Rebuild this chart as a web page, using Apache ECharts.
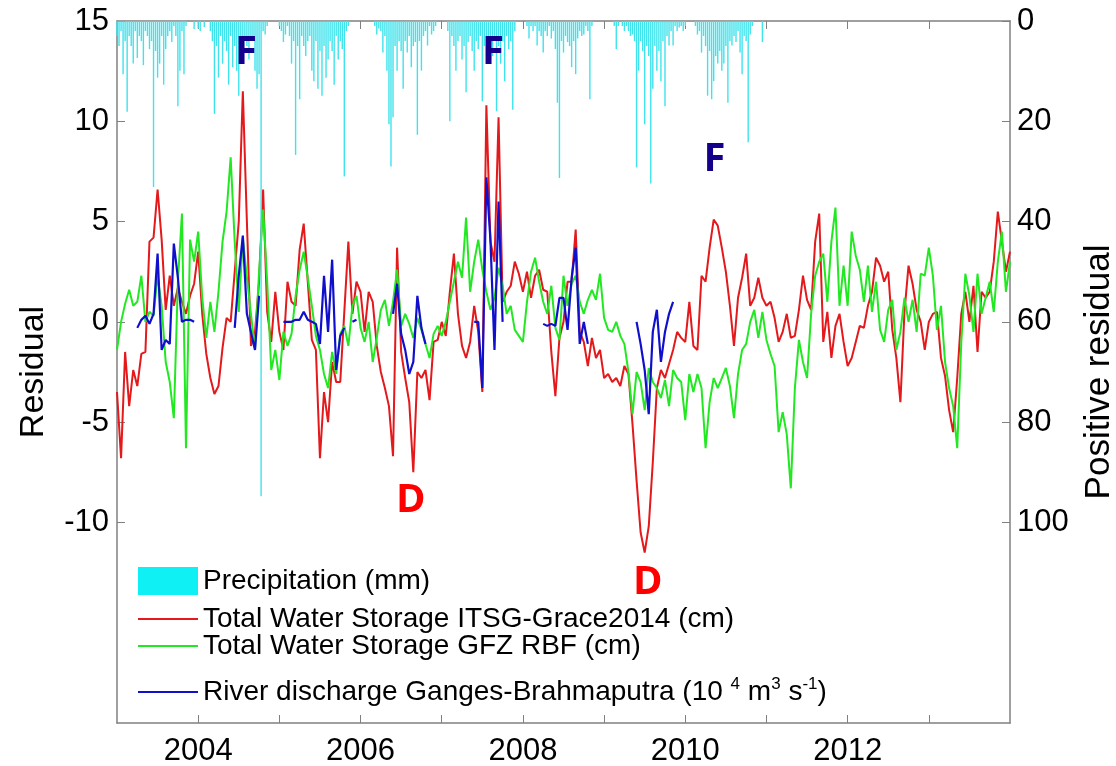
<!DOCTYPE html>
<html>
<head>
<meta charset="utf-8">
<script src="https://cdn.jsdelivr.net/npm/echarts@6/dist/echarts.min.js"></script>
<style>
  html, body { margin: 0; padding: 0; background: #fff; }
  #chart { width: 1116px; height: 766px; }
</style>
</head>
<body>
<div id="chart"></div>
<script>
// time grid of the three residual series: one value every 0.05 yr from 2003.0
const startYear = 2003;
const step = 0.05;

// Total Water Storage ITSG-Grace2014 (cm), one row per year
const redTWS = [
  -3.5, -6.8, -1.5, -4.2, -2.4, -3.2, -1.6, -1.5, 4.0, 4.2, 6.6, 4.1, 0.6, 2.3, 0.8, 1.7, 1.0, 0.4, 1.3, 1.9,
  3.5, 0.4, -1.6, -2.8, -3.6, -3.2, -1.3, 0.2, 0.0, 2.5, 5.0, 11.5, 5.0, -1.2, -0.5, 2.0, 6.6, 0.5, -1.0, 1.5,
  -0.5, -1.4, 2.0, 1.0, 0.8, 3.6, 4.9, 2.0, -0.9, -1.4, -6.8, -3.5, -5.0, -2.0, -3.0, -3.0, 0.5, 4.0, 0.4, 2.0,
  1.5, -0.5, 1.5, 1.0, -1.2, -2.5, -3.3, -4.2, -6.7, 3.7, -1.5, -2.8, -4.0, -7.5, -2.5, -2.8, -2.4, -3.9, -1.0, -0.9,
  0.0, -0.7, 1.5, 3.4, 0.4, -1.2, -1.8, -1.0, 0.8, -0.5, -3.5, 10.8, 4.0, 3.0, 10.2, 1.0, 1.5, 1.8, 3.0, 2.4,
  1.5, 2.5, 1.2, 2.3, 2.6, 1.6, 1.5, -1.5, -3.7, -0.8, 0.0, 2.0, 2.0, 4.6, -0.5, -1.0, -2.2, -0.8, -1.8, -1.4,
  -2.8, -2.6, -3.0, -2.8, -3.2, -2.2, -2.6, -5.1, -7.9, -10.5, -11.5, -10.2, -7.0, -3.3, -2.4, -2.8, -2.1, -1.4, -0.5, -0.8,
  -1.0, 1.0, -1.2, -1.4, 2.3, 2.0, 3.7, 5.1, 4.8, 3.7, 2.5, 0.8, -1.2, 1.2, 2.2, 3.4, 0.8, 1.2, 2.2, 1.2,
  0.8, 1.0, 0.2, -1.0, -0.5, 0.4, -0.8, -0.7, 0.6, 2.3, 1.1, 0.6, 4.0, 5.4, -1.0, 0.5, -1.8, -0.2, 0.4, -1.0,
  -2.2, -1.8, -1.0, -0.2, -0.3, 0.8, 1.5, 3.2, 2.8, 2.0, 2.5, -0.4, -1.8, -4.0, 0.5, 2.8, 1.9, 0.6, 0.0, -1.4,
  0.0, 0.4, 0.5, -1.8, -2.7, -4.4, -5.5, -2.8, 0.4, 1.5, 0.0, 1.8, -1.5, 1.5, 1.2, 1.5, 3.0, 5.5, 4.0, 2.5,
  3.5
];

// Total Water Storage GFZ RBF (cm)
const greenTWS = [
  -1.4, 0.0, 0.9, 1.6, 0.8, 1.0, 2.3, 0.0, 0.5, 0.3, 2.3, 0.8, -2.0, -3.0, -4.8, 2.0, 5.4, -6.3, 4.1, 3.0,
  4.5, 1.2, -0.8, 1.0, -0.5, 1.5, 4.0, 5.5, 8.2, 4.0, 0.5, 4.2, 2.2, 0.4, -1.4, 2.5, 5.6, 2.0, -2.4, -1.4,
  -2.9, -0.5, -1.2, -0.6, 1.3, 2.6, 3.5, 2.2, 0.8, -0.7, -1.4, -2.6, -3.3, -1.5, -2.6, -0.6, -0.2, -1.2, 0.8, 1.3,
  -0.3, -1.0, 0.0, -2.0, -0.8, 0.6, 1.1, -0.2, 1.0, 2.6, -0.2, 0.4, -0.1, -0.8, 0.2, -0.4, -1.1, -1.8, -0.6, -0.2,
  -0.7, 0.0, 1.0, 2.0, 3.0, 2.2, 5.2, 1.5, 3.0, 4.1, 2.6, 1.5, 0.6, 1.2, 2.7, 1.8, 0.4, 0.8, -0.4, -0.7,
  -1.0, 1.0, 2.5, 3.2, 2.0, 1.0, 0.4, 1.8, -0.3, -0.9, 2.3, 0.8, 1.9, 2.3, 1.0, 0.4, 1.1, 1.6, 1.1, 2.4,
  0.2, -0.4, -0.5, 0.0, -0.7, -1.1, -2.5, -4.6, -2.5, -3.0, -4.4, -2.3, -3.0, -3.3, -3.8, -2.9, -4.2, -2.4, -2.8, -3.0,
  -4.9, -2.6, -3.5, -2.6, -3.3, -6.3, -4.0, -2.8, -3.3, -2.8, -2.3, -3.2, -4.8, -2.6, -1.4, -1.1, 0.0, 0.6, -0.8, 0.5,
  -0.9, -1.6, -2.2, -5.5, -4.5, -5.6, -8.3, -3.3, -0.9, -2.0, -2.8, 0.4, 2.3, 3.0, 3.4, 1.0, 4.0, 5.7, 0.8, 2.8,
  0.8, 4.5, 3.3, 2.6, 1.0, 2.8, 0.5, 2.0, -0.4, -1.0, 0.6, 1.1, -1.4, -0.5, 1.2, 0.0, 1.1, -0.5, 2.4, 2.3,
  3.7, 2.3, -0.4, 0.8, -2.0, -3.3, -4.2, -6.3, -1.0, 2.4, 1.3, -0.5, 2.4, 0.4, 1.2, 2.0, 0.5, 3.0, 4.5, 1.5,
  3.0
];

// River discharge Ganges-Brahmaputra (10^4 m3/s), null = no record
const blueQ = [
  null, null, null, null, null, -0.3, 0.1, 0.3, -0.1, 0.4, 3.4, -1.4, -0.9, -1.1, 3.9, 2.2, 0.0, 0.1, 0.1, 0.0,
  null, null, null, null, null, null, null, null, null, -0.3, 2.3, 4.3, 0.4, -0.5, -1.4, 1.3, null, null, null, null,
  null, 0.0, 0.0, 0.0, 0.1, 0.1, 0.5, 0.1, 0.0, -0.1, -1.1, 2.3, -0.5, 3.1, -2.4, -0.7, -0.3, null, 0.0, 0.1,
  null, null, null, null, null, null, null, null, 0.4, 1.9, -0.6, -1.4, -2.6, -2.0, 1.3, -0.3, -1.1, null, null, null,
  null, null, null, null, null, null, null, null, 0.0, 0.0, -3.3, 7.2, 4.1, -1.4, 6.0, 0.0, null, null, null, null,
  null, null, null, null, null, -0.1, -0.2, -0.1, -0.2, 1.2, 1.2, -0.4, 2.2, 3.7, -1.1, 0.0, -1.1, null, null, null,
  null, null, null, null, null, null, null, null, 0.0, -1.1, -2.4, -4.6, -0.5, 0.6, -2.0, -0.5, 0.4, 1.0, null, null
];

// Precipitation (mm), one list per wet season, one bar every 0.025 yr
const rainStep = 0.025;
const rainStarts = [2003.0, 2003.95, 2005.0, 2006.175, 2007.075, 2008.05, 2009.125, 2010.125];
const rain2003 = [3, 5, 2, 10.6, 4, 18.1, 3, 5, 8.5, 2, 7.4, 3, 4, 8.8, 2, 3, 5.6, 4, 33.1, 6, 11.3, 8.5, 3, 12.7, 5.6, 3, 2, 4.2, 1, 3, 17, 9.9, 2, 10.6, 1, 0];
const rain2004 = [1.6, 0, 1.5, 2, 0, 1.2, 0, 0, 2, 4, 18.5, 5, 11.3, 3, 8.5, 4, 6, 12.7, 3, 9.2, 5, 9.9, 14.9, 4, 6.3, 3, 5, 7.7, 4, 3, 9.9, 13.5, 10.6, 94.8, 2, 2.7, 1];
const rain2005 = [1, 2, 4.2, 2.7, 1, 3, 8.5, 4, 26.7, 5, 15.6, 3, 5, 7, 4, 3, 9.9, 12, 4, 13.5, 6, 14.9, 5, 11.3, 7.7, 4, 6, 12.7, 3, 7.7, 4, 5.6, 31, 2, 1];
const rain2006 = [1, 2.7, 1.5, 2, 6.3, 3, 9.9, 20.6, 29, 19.2, 5, 9.9, 4, 6, 13.5, 4, 6.3, 3, 9.2, 5, 4.2, 22.7, 4, 9.9, 3, 2, 4.9, 1, 2.7, 2, 1];
const rain2007 = [2, 20, 3, 5, 9.9, 4, 3, 7.7, 5, 14.2, 4.2, 3, 6, 9.9, 4, 5.6, 3, 16, 5, 8.5, 3, 4.9, 7, 4, 18, 5, 8.5, 4, 12, 3, 5.6, 4, 17.7, 2];
const rain2008 = [1, 3.5, 1, 2, 1, 4.9, 2, 3, 6.3, 2, 3, 1, 3.5, 2, 5.6, 16.3, 31.3, 4, 6.3, 3, 4.2, 5, 9.2, 4, 10.6, 3.5, 2, 3, 2.7, 1, 2, 15.6, 1];
const rain2009 = [1, 5.6, 1, 0, 1, 2, 1, 2, 3, 2.7, 4, 29.2, 9.9, 4, 6, 20.6, 5, 7, 32.4, 13.5, 5, 9.9, 6, 12, 4, 17, 3, 4.9, 2, 4.9, 1, 2, 1.3, 1, 2, 1];
const rain2010 = [1, 2.7, 2, 6.3, 3, 5, 14.9, 6, 15.6, 12, 7, 8.5, 6, 9.9, 8.5, 5, 16.3, 4, 4.9, 3, 4.2, 2, 6.3, 10.6, 3, 4, 24.2, 2.7, 1, 0, 0, 0, 0, 4.2];
const rainSeasons = [rain2003, rain2004, rain2005, rain2006, rain2007, rain2008, rain2009, rain2010];

// flood / drought marks: letter, year, residual
const noteText = ['F', 'F', 'F', 'D', 'D'];
const noteYear = [2004.59, 2007.63, 2010.36, 2006.62, 2009.54];
const noteValue = [13.4, 13.4, 8.1, -8.9, -13.0];

// axis ticks and labels
const tickYears = [2004, 2005, 2006, 2007, 2008, 2009, 2010, 2011, 2012, 2013];
const labelYears = [2004, 2006, 2008, 2010, 2012];
const leftTicks = [-10, -5, 0, 5, 10, 15];
const rightTicks = [0, 20, 40, 60, 80, 100];

const NAMES = {
  rain: 'Precipitation (mm)',
  red: 'Total Water Storage ITSG-Grace2014 (cm)',
  green: 'Total Water Storage GFZ RBF (cm)',
  blue: 'River discharge Ganges-Brahmaputra'
};

const toPairs = vals => vals.map((v, i) => [+(startYear + i * step).toFixed(3), v == null ? '-' : v]);

const rainData = [];
rainSeasons.forEach((vals, k) => {
  vals.forEach((v, i) => rainData.push([+(rainStarts[k] + i * rainStep).toFixed(3), v]));
});

const noteData = noteText.map((t, i) => ({
  name: t,
  value: [noteYear[i], noteValue[i]],
  label: { color: t === 'F' ? '#15008c' : '#ff0000' }
}));

const axisGray = '#808080';
const font = "'Liberation Sans', Arial, sans-serif";
const legendFont = 28;

// one legend block per entry so each row sits where the reference has it
function legendRow(name, top, extra) {
  return Object.assign({
    data: [{ name: name, icon: 'rect' }],
    left: 138,
    top: top,
    padding: 0,
    itemWidth: 60,
    itemHeight: 2,
    selectedMode: false,
    textStyle: { fontSize: legendFont, color: '#000', fontFamily: font, lineHeight: 28 }
  }, extra || {});
}

const chart = echarts.init(document.getElementById('chart'), null, { renderer: 'canvas' });

chart.setOption({
  animation: false,
  backgroundColor: '#fff',
  textStyle: { fontFamily: font },
  grid: { left: 117, right: 106, top: 21, bottom: 43, outerBoundsMode: 'none', containLabel: false },
  xAxis: [
    {
      type: 'value', min: 2003, max: 2014, position: 'bottom',
      axisLine: { show: true, onZero: false, lineStyle: { color: axisGray, width: 1.5 } },
      axisTick: { show: true, inside: true, length: 8, customValues: tickYears, lineStyle: { color: axisGray } },
      axisLabel: {
        customValues: labelYears, formatter: v => String(v),
        fontSize: 31, color: '#000', margin: 13, fontFamily: font
      },
      splitLine: { show: false }
    },
    {
      type: 'value', min: 2003, max: 2014, position: 'top',
      axisLine: { show: true, onZero: false, lineStyle: { color: axisGray, width: 1.5 } },
      axisTick: { show: true, inside: true, length: 8, customValues: tickYears, lineStyle: { color: axisGray } },
      axisLabel: { show: false },
      splitLine: { show: false }
    }
  ],
  yAxis: [
    {
      type: 'value', min: -20, max: 15, position: 'left',
      name: 'Residual', nameLocation: 'middle', nameGap: 66,
      nameTextStyle: { fontSize: 34, color: '#000', fontFamily: font },
      axisLine: { show: true, onZero: false, lineStyle: { color: axisGray, width: 1.5 } },
      axisTick: { show: true, inside: true, length: 8, customValues: leftTicks, lineStyle: { color: axisGray } },
      axisLabel: { customValues: leftTicks, fontSize: 31, color: '#000', margin: 8, fontFamily: font },
      splitLine: { show: false }
    },
    {
      type: 'value', min: 0, max: 140, inverse: true, position: 'right',
      name: 'Positive residual', nameLocation: 'middle', nameGap: 72,
      nameTextStyle: { fontSize: 35, color: '#000', fontFamily: font },
      axisLine: { show: true, onZero: false, lineStyle: { color: axisGray, width: 1.5 } },
      axisTick: { show: true, inside: true, length: 8, customValues: rightTicks, lineStyle: { color: axisGray } },
      axisLabel: { customValues: rightTicks, fontSize: 31, color: '#000', margin: 7, fontFamily: font },
      splitLine: { show: false }
    }
  ],
  legend: [
    legendRow(NAMES.rain, 567, {
      data: [{ name: NAMES.rain, icon: 'rect', itemStyle: { color: '#0ff0f4' } }],
      itemHeight: 28
    }),
    legendRow(NAMES.red, 605),
    legendRow(NAMES.green, 632),
    legendRow(NAMES.blue, 676, {
      formatter: () => 'River discharge Ganges-Brahmaputra (10 {sup|4} m{sup|3} s{sup|-1})',
      textStyle: {
        fontSize: legendFont, color: '#000', fontFamily: font, lineHeight: 32,
        rich: { sup: { fontSize: 17, verticalAlign: 'top', lineHeight: 32, fontFamily: font, color: '#000' } }
      }
    })
  ],
  series: [
    {
      name: NAMES.red, type: 'line', data: toPairs(redTWS),
      showSymbol: false, symbol: 'none', z: 2,
      lineStyle: { color: '#e3191c', width: 2 }, itemStyle: { color: '#e3191c' }
    },
    {
      name: NAMES.green, type: 'line', data: toPairs(greenTWS),
      showSymbol: false, symbol: 'none', z: 2,
      lineStyle: { color: '#22e822', width: 2 }, itemStyle: { color: '#22e822' }
    },
    {
      name: NAMES.blue, type: 'line', data: toPairs(blueQ),
      showSymbol: false, symbol: 'none', connectNulls: false, z: 3,
      lineStyle: { color: '#1010cc', width: 2.2 }, itemStyle: { color: '#1010cc' }
    },
    {
      name: NAMES.rain, type: 'bar', yAxisIndex: 1, data: rainData,
      barWidth: 1.4, z: 4,
      itemStyle: { color: '#3ee3ec' }
    },
    {
      type: 'scatter', data: noteData, symbolSize: 0, z: 6, silent: true,
      itemStyle: { color: 'transparent', opacity: 1 },
      label: {
        show: true, position: 'inside', formatter: '{b}', opacity: 1,
        fontSize: 40, fontWeight: 'bold', fontFamily: "'Open Sans', sans-serif",
        textBorderWidth: 0, textShadowBlur: 0
      }
    }
  ]
});
</script>
</body>
</html>
